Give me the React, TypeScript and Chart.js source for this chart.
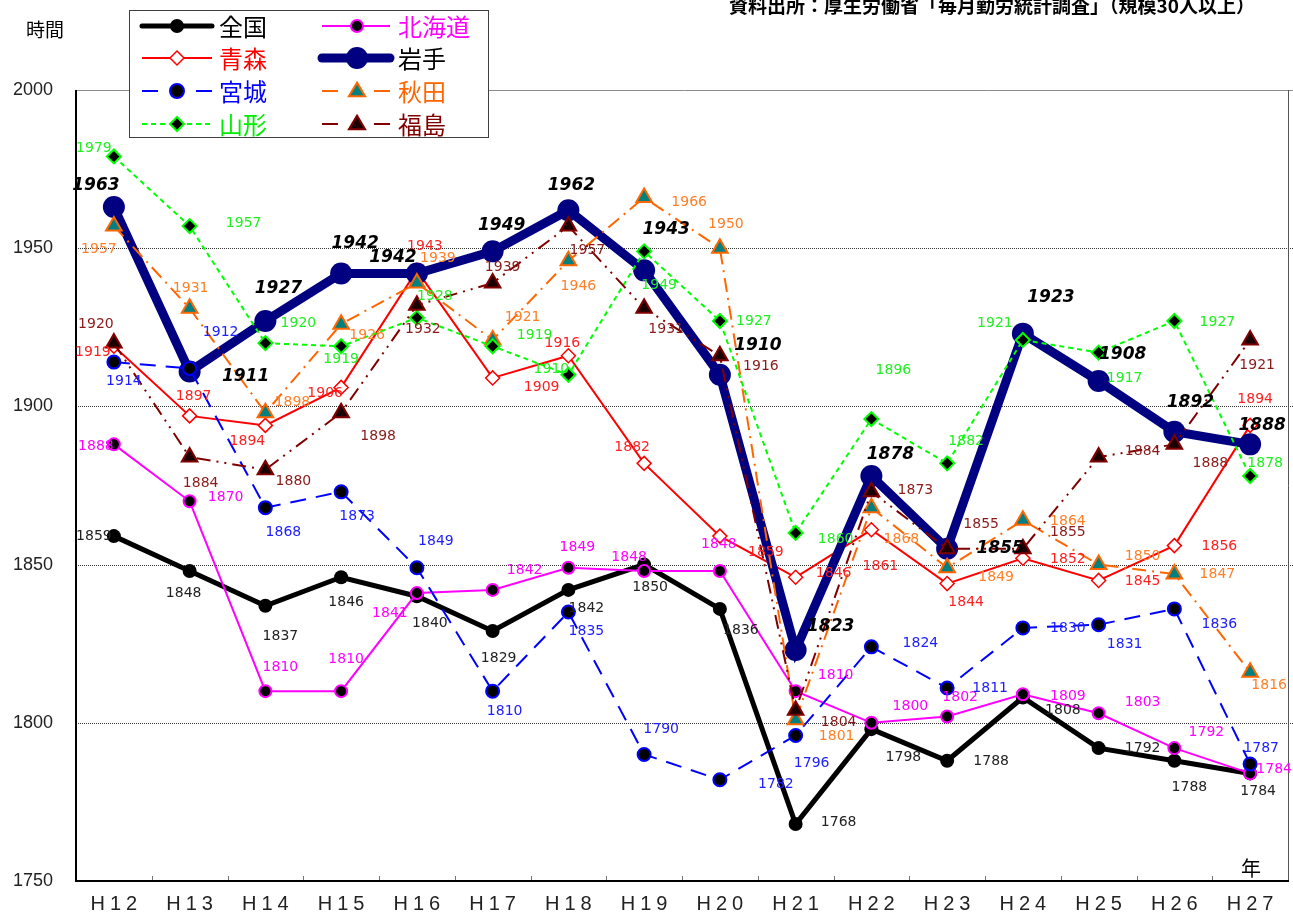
import React, { useEffect, useRef } from "react";
import { Chart, registerables } from "chart.js";

Chart.register(...registerables);

// ---- data ----
const years = ["H12", "H13", "H14", "H15", "H16", "H17", "H18", "H19", "H20", "H21", "H22", "H23", "H24", "H25", "H26", "H27"];
const yTicks = [1750, 1800, 1850, 1900, 1950, 2000];

const zenkoku = [1859, 1848, 1837, 1846, 1840, 1829, 1842, 1850, 1836, 1768, 1798, 1788, 1808, 1792, 1788, 1784];
const hokkaido = [1888, 1870, 1810, 1810, 1841, 1842, 1849, 1848, 1848, 1810, 1800, 1802, 1809, 1803, 1792, 1784];
const aomori = [1919, 1897, 1894, 1906, 1943, 1909, 1916, 1882, 1859, 1846, 1861, 1844, 1852, 1845, 1856, 1894];
const iwate = [1963, 1911, 1927, 1942, 1942, 1949, 1962, 1943, 1910, 1823, 1878, 1855, 1923, 1908, 1892, 1888];
const miyagi = [1914, 1912, 1868, 1873, 1849, 1810, 1835, 1790, 1782, 1796, 1824, 1811, 1830, 1831, 1836, 1787];
const akita = [1957, 1931, 1898, 1926, 1939, 1921, 1946, 1966, 1950, 1801, 1868, 1849, 1864, 1850, 1847, 1816];
const yamagata = [1979, 1957, 1920, 1919, 1928, 1919, 1910, 1949, 1927, 1860, 1896, 1882, 1921, 1917, 1927, 1878];
const fukushima = [1920, 1884, 1880, 1898, 1932, 1939, 1957, 1931, 1916, 1804, 1873, 1855, 1855, 1884, 1888, 1921];

// ---- label offsets (pixels, relative to each point) ----
const offZen = [[-20, 0], [-6, 22], [15, 31], [5, 25], [13, 27], [6, 27], [18, 18], [6, 23], [21, 21], [43, -2], [32, 28], [44, 1], [40, 13], [44, 0], [15, 27], [8, 18]];
const offHok = [[-18, 2], [36, -4], [15, -24], [5, -32], [-27, 20], [32, -20], [9, -20], [-15, -14], [-1, -27], [40, -16], [39, -16], [13, -19], [45, 2], [44, -11], [32, -16], [24, -4]];
const offAom = [[-21, 6], [4, -20], [-18, 16], [-16, 6], [8, -24], [49, 9], [-6, -12], [-12, -16], [46, 16], [38, -4], [9, 37], [19, 19], [45, 1], [44, 1], [45, 1], [5, -26]];
const offIwa = [[-18, -21], [56, 5], [13, -32], [14, -30], [-24, -16], [9, -26], [3, -25], [22, -41], [38, -29], [35, -23], [19, -21], [53, 0], [28, -36], [24, -27], [16, -29], [12, -19]];
const offMiy = [[10, 19], [31, -36], [18, 25], [16, 25], [19, -26], [12, 20], [18, 19], [17, -25], [56, 5], [16, 28], [49, -4], [43, 0], [45, 0], [26, 20], [45, 15], [11, -16]];
const offAki = [[-15, 23], [1, -20], [27, -10], [26, 11], [21, -25], [30, -23], [10, 26], [45, 5], [6, -24], [41, 17], [30, 32], [49, 10], [45, 1], [44, -8], [43, 0], [19, 13]];
const offYam = [[-20, -8], [54, -3], [33, -20], [0, 13], [18, -21], [42, -11], [-17, -5], [15, 34], [34, 0], [40, 6], [22, -49], [19, -22], [-28, -17], [26, 26], [43, 1], [15, -13]];
const offFuk = [[-18, -19], [11, 26], [28, 12], [37, 24], [6, 24], [10, -16], [19, 24], [22, 21], [41, 11], [43, 12], [44, -1], [34, -24], [45, -16], [44, -6], [36, 19], [7, 25]];

type S = {
  name: string; data: number[]; off: number[][]; color: string; textColor: string; labelColor: string;
  lw: number; dash: number[]; pstyle: string; r: number; fill: string; stroke: string; plw: number; bold?: boolean;
  legR: number;
};

const series: S[] = [
  { name: "全国", data: zenkoku, off: offZen, color: "#000000", textColor: "#000000", labelColor: "#222222", lw: 5, dash: [], pstyle: "circle", r: 7, fill: "#000000", stroke: "#000000", plw: 0, legR: 7 },
  { name: "北海道", data: hokkaido, off: offHok, color: "#FF00FF", textColor: "#FF00FF", labelColor: "#FF00FF", lw: 2, dash: [], pstyle: "circle", r: 6, fill: "#000000", stroke: "#FF00FF", plw: 2, legR: 6 },
  { name: "青森", data: aomori, off: offAom, color: "#FF0000", textColor: "#FF0000", labelColor: "#FF2020", lw: 2, dash: [], pstyle: "rectRot", r: 7, fill: "#FFFFFF", stroke: "#FF0000", plw: 1.5, legR: 7 },
  { name: "岩手", data: iwate, off: offIwa, color: "#000080", textColor: "#000000", labelColor: "#000000", lw: 9, dash: [], pstyle: "circle", r: 11, fill: "#000080", stroke: "#000080", plw: 0, bold: true, legR: 11 },
  { name: "宮城", data: miyagi, off: offMiy, color: "#0000FF", textColor: "#0000FF", labelColor: "#2020FF", lw: 2, dash: [16, 10], pstyle: "circle", r: 6.5, fill: "#000000", stroke: "#0000FF", plw: 2, legR: 7 },
  { name: "秋田", data: akita, off: offAki, color: "#FF6600", textColor: "#FF6600", labelColor: "#FF7F27", lw: 2, dash: [14, 6, 2, 6], pstyle: "triangle", r: 9, fill: "#008080", stroke: "#FF6600", plw: 2, legR: 9 },
  { name: "山形", data: yamagata, off: offYam, color: "#00FF00", textColor: "#00EE00", labelColor: "#22EE22", lw: 2, dash: [5, 4], pstyle: "rectRot", r: 7, fill: "#000000", stroke: "#00FF00", plw: 2, legR: 7 },
  { name: "福島", data: fukushima, off: offFuk, color: "#800000", textColor: "#800000", labelColor: "#8B1A1A", lw: 2, dash: [14, 6, 2, 6, 2, 6], pstyle: "triangle", r: 9, fill: "#1A0000", stroke: "#800000", plw: 2, legR: 9 },
];

function marker(ctx: CanvasRenderingContext2D, style: string, x: number, y: number, r: number, fill: string, stroke: string, lw: number) {
  ctx.save();
  ctx.setLineDash([]);
  ctx.beginPath();
  if (style === "circle") {
    ctx.arc(x, y, r, 0, Math.PI * 2);
  } else if (style === "rectRot") {
    ctx.moveTo(x, y - r);
    ctx.lineTo(x + r, y);
    ctx.lineTo(x, y + r);
    ctx.lineTo(x - r, y);
    ctx.closePath();
  } else {
    const h = r * 1.5;
    ctx.moveTo(x, y - h * 0.62);
    ctx.lineTo(x + r * 0.9, y + h * 0.38);
    ctx.lineTo(x - r * 0.9, y + h * 0.38);
    ctx.closePath();
  }
  ctx.fillStyle = fill;
  ctx.fill();
  if (lw > 0) {
    ctx.lineWidth = lw;
    ctx.strokeStyle = stroke;
    ctx.stroke();
  }
  ctx.restore();
}

const decorPlugin = {
  id: "decor",
  beforeDatasetsDraw(chart: any) {
    const ctx: CanvasRenderingContext2D = chart.ctx;
    const ca = chart.chartArea;
    const ys = chart.scales.y;
    ctx.save();
    for (const v of yTicks) {
      if (v === 1750) continue;
      const y = Math.round(ys.getPixelForValue(v)) + 0.5;
      ctx.beginPath();
      if (v === 2000) {
        ctx.setLineDash([]);
        ctx.strokeStyle = "#8c8c8c";
      } else {
        ctx.setLineDash([1, 1]);
        ctx.strokeStyle = "#333333";
      }
      ctx.lineWidth = 1;
      ctx.moveTo(ca.left, y);
      ctx.lineTo(chart.width, y);
      ctx.stroke();
    }
    ctx.setLineDash([]);
    ctx.strokeStyle = "#555555";
    ctx.lineWidth = 1;
    ctx.beginPath();
    ctx.moveTo(ca.right + 0.5, ca.top);
    ctx.lineTo(ca.right + 0.5, ca.bottom);
    ctx.stroke();
    const n = years.length;
    const w = (ca.right - ca.left) / n;
    ctx.strokeStyle = "#777777";
    for (let k = 1; k < n; k++) {
      const x = Math.round(ca.left + k * w) + 0.5;
      ctx.beginPath();
      ctx.moveTo(x, ca.bottom);
      ctx.lineTo(x, ca.bottom - 5);
      ctx.stroke();
    }
    ctx.strokeStyle = "#000000";
    ctx.lineWidth = 2;
    ctx.beginPath();
    ctx.moveTo(ca.left, ca.top);
    ctx.lineTo(ca.left, ca.bottom);
    ctx.lineTo(ca.right + 1, ca.bottom);
    ctx.stroke();
    ctx.restore();
  },
  afterDatasetsDraw(chart: any) {
    const ctx: CanvasRenderingContext2D = chart.ctx;
    ctx.save();
    ctx.textAlign = "center";
    ctx.textBaseline = "middle";
    series.forEach((s, di) => {
      const meta = chart.getDatasetMeta(di);
      ctx.fillStyle = s.labelColor;
      ctx.font = s.bold ? "italic bold 17px 'DejaVu Sans'" : "14px 'DejaVu Sans'";
      meta.data.forEach((pt: any, i: number) => {
        const o = s.off[i];
        ctx.fillText(String(s.data[i]), pt.x + o[0], pt.y + o[1]);
      });
    });
    ctx.restore();
  },
  afterDraw(chart: any) {
    const ctx: CanvasRenderingContext2D = chart.ctx;
    const ca = chart.chartArea;
    ctx.save();
    const n = years.length;
    const w = (ca.right - ca.left) / n;
    ctx.font = "20px 'Liberation Sans'";
    ctx.fillStyle = "#222222";
    ctx.textAlign = "center";
    ctx.textBaseline = "middle";
    (ctx as any).letterSpacing = "5px";
    years.forEach((t, i) => {
      ctx.fillText(t, ca.left + (i + 0.5) * w + 2.5, 904);
    });
    (ctx as any).letterSpacing = "0px";
    ctx.font = "20px 'Noto Sans CJK JP'";
    ctx.fillStyle = "#000000";
    ctx.fillText("年", 1251, 868);
    ctx.font = "19px 'Noto Sans CJK JP'";
    ctx.fillText("時間", 45, 30);
    ctx.font = "bold 19px 'Noto Sans CJK JP'";
    ctx.textAlign = "right";
    ctx.fillText("資料出所：厚生労働省「毎月勤労統計調査」（規模30人以上）", 1255, 6, 625);
    const bx = 129.5, by = 10.5, bw = 359, bh = 127;
    ctx.fillStyle = "#ffffff";
    ctx.fillRect(bx, by, bw, bh);
    ctx.strokeStyle = "#404040";
    ctx.lineWidth = 1;
    ctx.setLineDash([]);
    ctx.strokeRect(bx, by, bw, bh);
    const rowsY = [26, 58, 91, 124];
    const cols = [{ x0: 142, x1: 212, mx: 177, tx: 219 }, { x0: 322, x1: 390, mx: 357, tx: 398 }];
    series.forEach((s, i) => {
      const row = Math.floor(i / 2);
      const c = cols[i % 2];
      const y = rowsY[row];
      ctx.save();
      ctx.strokeStyle = s.color;
      ctx.lineWidth = s.lw;
      ctx.lineCap = s.lw > 3 ? "round" : "butt";
      if (s.dash.length > 2 || (s.dash.length === 2 && s.dash[0] > 10)) {
        ctx.setLineDash([]);
        ctx.beginPath();
        ctx.moveTo(c.x0, y); ctx.lineTo(c.x0 + 16, y);
        ctx.moveTo(c.x1 - 16, y); ctx.lineTo(c.x1, y);
        ctx.stroke();
      } else {
        ctx.setLineDash(s.dash);
        ctx.beginPath();
        ctx.moveTo(c.x0, y);
        ctx.lineTo(c.x1, y);
        ctx.stroke();
      }
      ctx.restore();
      marker(ctx, s.pstyle, c.mx, y, s.legR, s.fill, s.stroke, s.plw);
      ctx.font = "24px 'Noto Sans CJK JP'";
      ctx.fillStyle = s.textColor;
      ctx.textAlign = "left";
      ctx.textBaseline = "middle";
      ctx.fillText(s.name, c.tx, y + 1);
    });
    ctx.restore();
  },
};

export default function App() {
  const ref = useRef<HTMLCanvasElement | null>(null);
  useEffect(() => {
    if (!ref.current) return;
    const chart = new Chart(ref.current, {
      type: "line",
      data: {
        labels: years,
        datasets: series.map((s, i) => ({
          label: s.name,
          data: s.data,
          borderColor: s.color,
          backgroundColor: s.fill,
          borderWidth: s.lw,
          borderDash: s.dash,
          pointStyle: s.pstyle as any,
          pointRadius: s.r,
          pointBackgroundColor: s.fill,
          pointBorderColor: s.stroke,
          pointBorderWidth: s.plw,
          tension: 0,
          fill: false,
          clip: false as any,
          order: series.length - i,
        })),
      },
      options: {
        animation: false,
        responsive: false,
        events: [],
        layout: { autoPadding: false, padding: { top: 90, right: 5, left: 0, bottom: 0 } },
        plugins: { legend: { display: false }, tooltip: { enabled: false }, title: { display: false } },
        scales: {
          x: {
            type: "category",
            offset: true,
            grid: { display: false },
            border: { display: false },
            ticks: { display: false },
            afterFit: (sc: any) => { sc.height = 33; },
          },
          y: {
            min: 1750,
            max: 2000,
            grid: { display: false },
            border: { display: false },
            ticks: {
              stepSize: 50,
              padding: 15,
              color: "#222222",
              font: { family: "'Liberation Sans'", size: 18 },
              callback: (v: any) => String(v),
            },
            afterFit: (sc: any) => { sc.width = 76; },
          },
        },
      },
      plugins: [decorPlugin],
    });
    return () => chart.destroy();
  }, []);
  return (
    <div style={{ position: "absolute", left: 0, top: 0, width: 1293, height: 914, background: "#fff" }}>
      <canvas ref={ref} width={1293} height={914} style={{ display: "block" }} />
    </div>
  );
}
